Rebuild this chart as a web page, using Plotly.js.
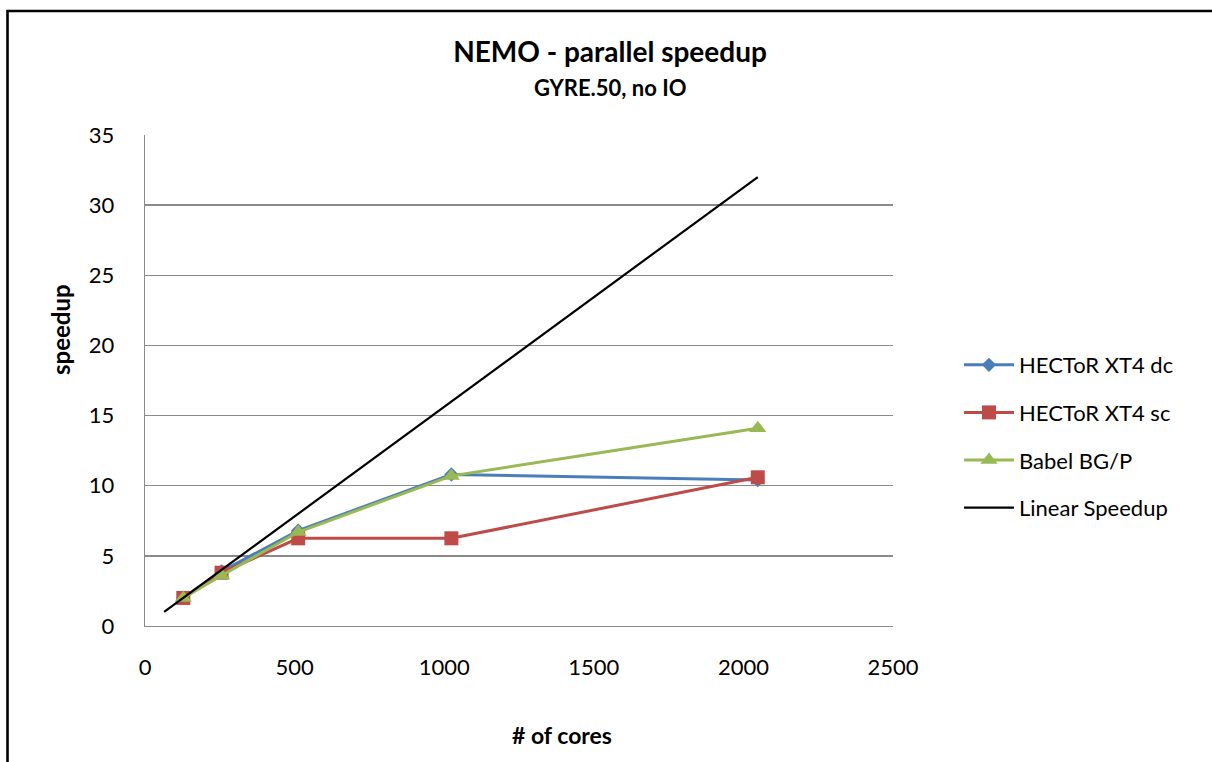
<!DOCTYPE html>
<html>
<head>
<meta charset="utf-8">
<script src="https://cdn.plot.ly/plotly-3.0.1.min.js"></script>
<style>
  html, body { margin: 0; padding: 0; background: #ffffff; overflow: hidden; }
  #chart { width: 1212px; height: 762px; }
</style>
</head>
<body>
<div id="chart"></div>
<script>
// Core counts used in the scaling runs
const cores = [128, 256, 512, 1024, 2048];
const linearCores = [64, 128, 256, 512, 1024, 2048];

// Measured speedup per machine
const hectorDc = [2.0, 3.9, 6.8, 10.8, 10.4];
const hectorSc = [2.0, 3.8, 6.25, 6.25, 10.6];
const babelBgp = [2.0, 3.6, 6.7, 10.7, 14.1];
// Ideal scaling reference
const linearSpeedup = [1, 2, 4, 8, 16, 32];

const seriesNames = ['HECToR XT4 dc', 'HECToR XT4 sc', 'Babel BG/P', 'Linear Speedup'];
const xTicks = [0, 500, 1000, 1500, 2000, 2500];
const yTicks = [0, 5, 10, 15, 20, 25, 30, 35];

const FONT = 'Lato, "Open Sans", sans-serif';

const traces = [
  {
    x: cores, y: hectorDc, name: seriesNames[0], legendgroup: 'a',
    mode: 'lines+markers', type: 'scatter',
    line: { color: '#4A7EBB', width: 3 },
    marker: { symbol: 'diamond', size: 11, color: '#4A7EBB' }
  },
  {
    x: cores, y: hectorSc, name: seriesNames[1], legendgroup: 'b',
    mode: 'lines+markers', type: 'scatter',
    line: { color: '#BE4B48', width: 3 },
    marker: { symbol: 'square', size: 14, color: '#BE4B48' }
  },
  {
    x: cores, y: babelBgp, name: seriesNames[2], legendgroup: 'c',
    mode: 'lines+markers', type: 'scatter',
    line: { color: '#98B954', width: 3 },
    marker: { symbol: 'triangle-up', size: 15, color: '#98B954' }
  },
  {
    x: linearCores, y: linearSpeedup, name: seriesNames[3], legendgroup: 'd',
    mode: 'lines', type: 'scatter',
    line: { color: '#000000', width: 2.2 }
  }
];

// pixel helpers for placing text and the outer frame
const L = 145, R = 893, T = 135, B = 626;
const px = v => (v - L) / (R - L);
const py = v => (B - v) / (B - T);

const layout = {
  width: 1212, height: 762,
  margin: { l: L, r: 1212 - R, t: T, b: 762 - B },
  paper_bgcolor: '#ffffff', plot_bgcolor: '#ffffff',
  font: { family: FONT, color: '#000000' },
  showlegend: true,
  title: {
    text: '<b>NEMO - parallel speedup</b>',
    font: { family: FONT, size: 28, color: '#000000' },
    xref: 'container', yref: 'container',
    x: 610 / 1212, xanchor: 'center',
    y: 1 - 52 / 762, yanchor: 'middle'
  },
  xaxis: {
    range: [0, 2500], tickvals: xTicks, ticktext: xTicks.map(String),
    showgrid: false, zeroline: false,
    showline: true, linecolor: '#8a8a8a', linewidth: 1.3,
    ticks: '', ticklabelstandoff: 21,
    tickfont: { family: FONT, size: 22, color: '#000000' },
    fixedrange: true
  },
  yaxis: {
    range: [0, 35], tickvals: yTicks, ticktext: yTicks.map(String),
    showgrid: true, gridcolor: '#8a8a8a', gridwidth: 1.3,
    zeroline: false,
    showline: true, linecolor: '#8a8a8a', linewidth: 1.3,
    ticks: '', ticklabelstandoff: 25,
    tickfont: { family: FONT, size: 22, color: '#000000' },
    fixedrange: true
  },
  legend: {
    x: px(959), y: py(344), xanchor: 'left', yanchor: 'top',
    font: { family: FONT, size: 22, color: '#000000' },
    tracegroupgap: 16, itemwidth: 50,
    bgcolor: 'rgba(0,0,0,0)', borderwidth: 0
  },
  annotations: [
    {
      text: '<b>GYRE.50, no IO</b>', showarrow: false,
      xref: 'paper', yref: 'paper', x: px(610), y: py(88),
      xanchor: 'center', yanchor: 'middle',
      font: { family: FONT, size: 22, color: '#000000' }
    },
    {
      text: '<b># of cores</b>', showarrow: false,
      xref: 'paper', yref: 'paper', x: px(562), y: py(735),
      xanchor: 'center', yanchor: 'middle',
      font: { family: FONT, size: 23, color: '#000000' }
    },
    {
      text: '<b>speedup</b>', showarrow: false, textangle: -90,
      xref: 'paper', yref: 'paper', x: px(60), y: py(330),
      xanchor: 'center', yanchor: 'middle',
      font: { family: FONT, size: 24, color: '#000000' }
    }
  ],
  shapes: [
    {
      type: 'path', xref: 'paper', yref: 'paper', layer: 'above',
      path: 'M ' + px(7.5) + ' ' + py(780) + ' L ' + px(7.5) + ' ' + py(11) +
            ' L ' + px(1230) + ' ' + py(11),
      line: { color: '#000000', width: 2.6 }
    }
  ]
};

Plotly.newPlot('chart', traces, layout, { displayModeBar: false, staticPlot: true });
</script>
</body>
</html>
